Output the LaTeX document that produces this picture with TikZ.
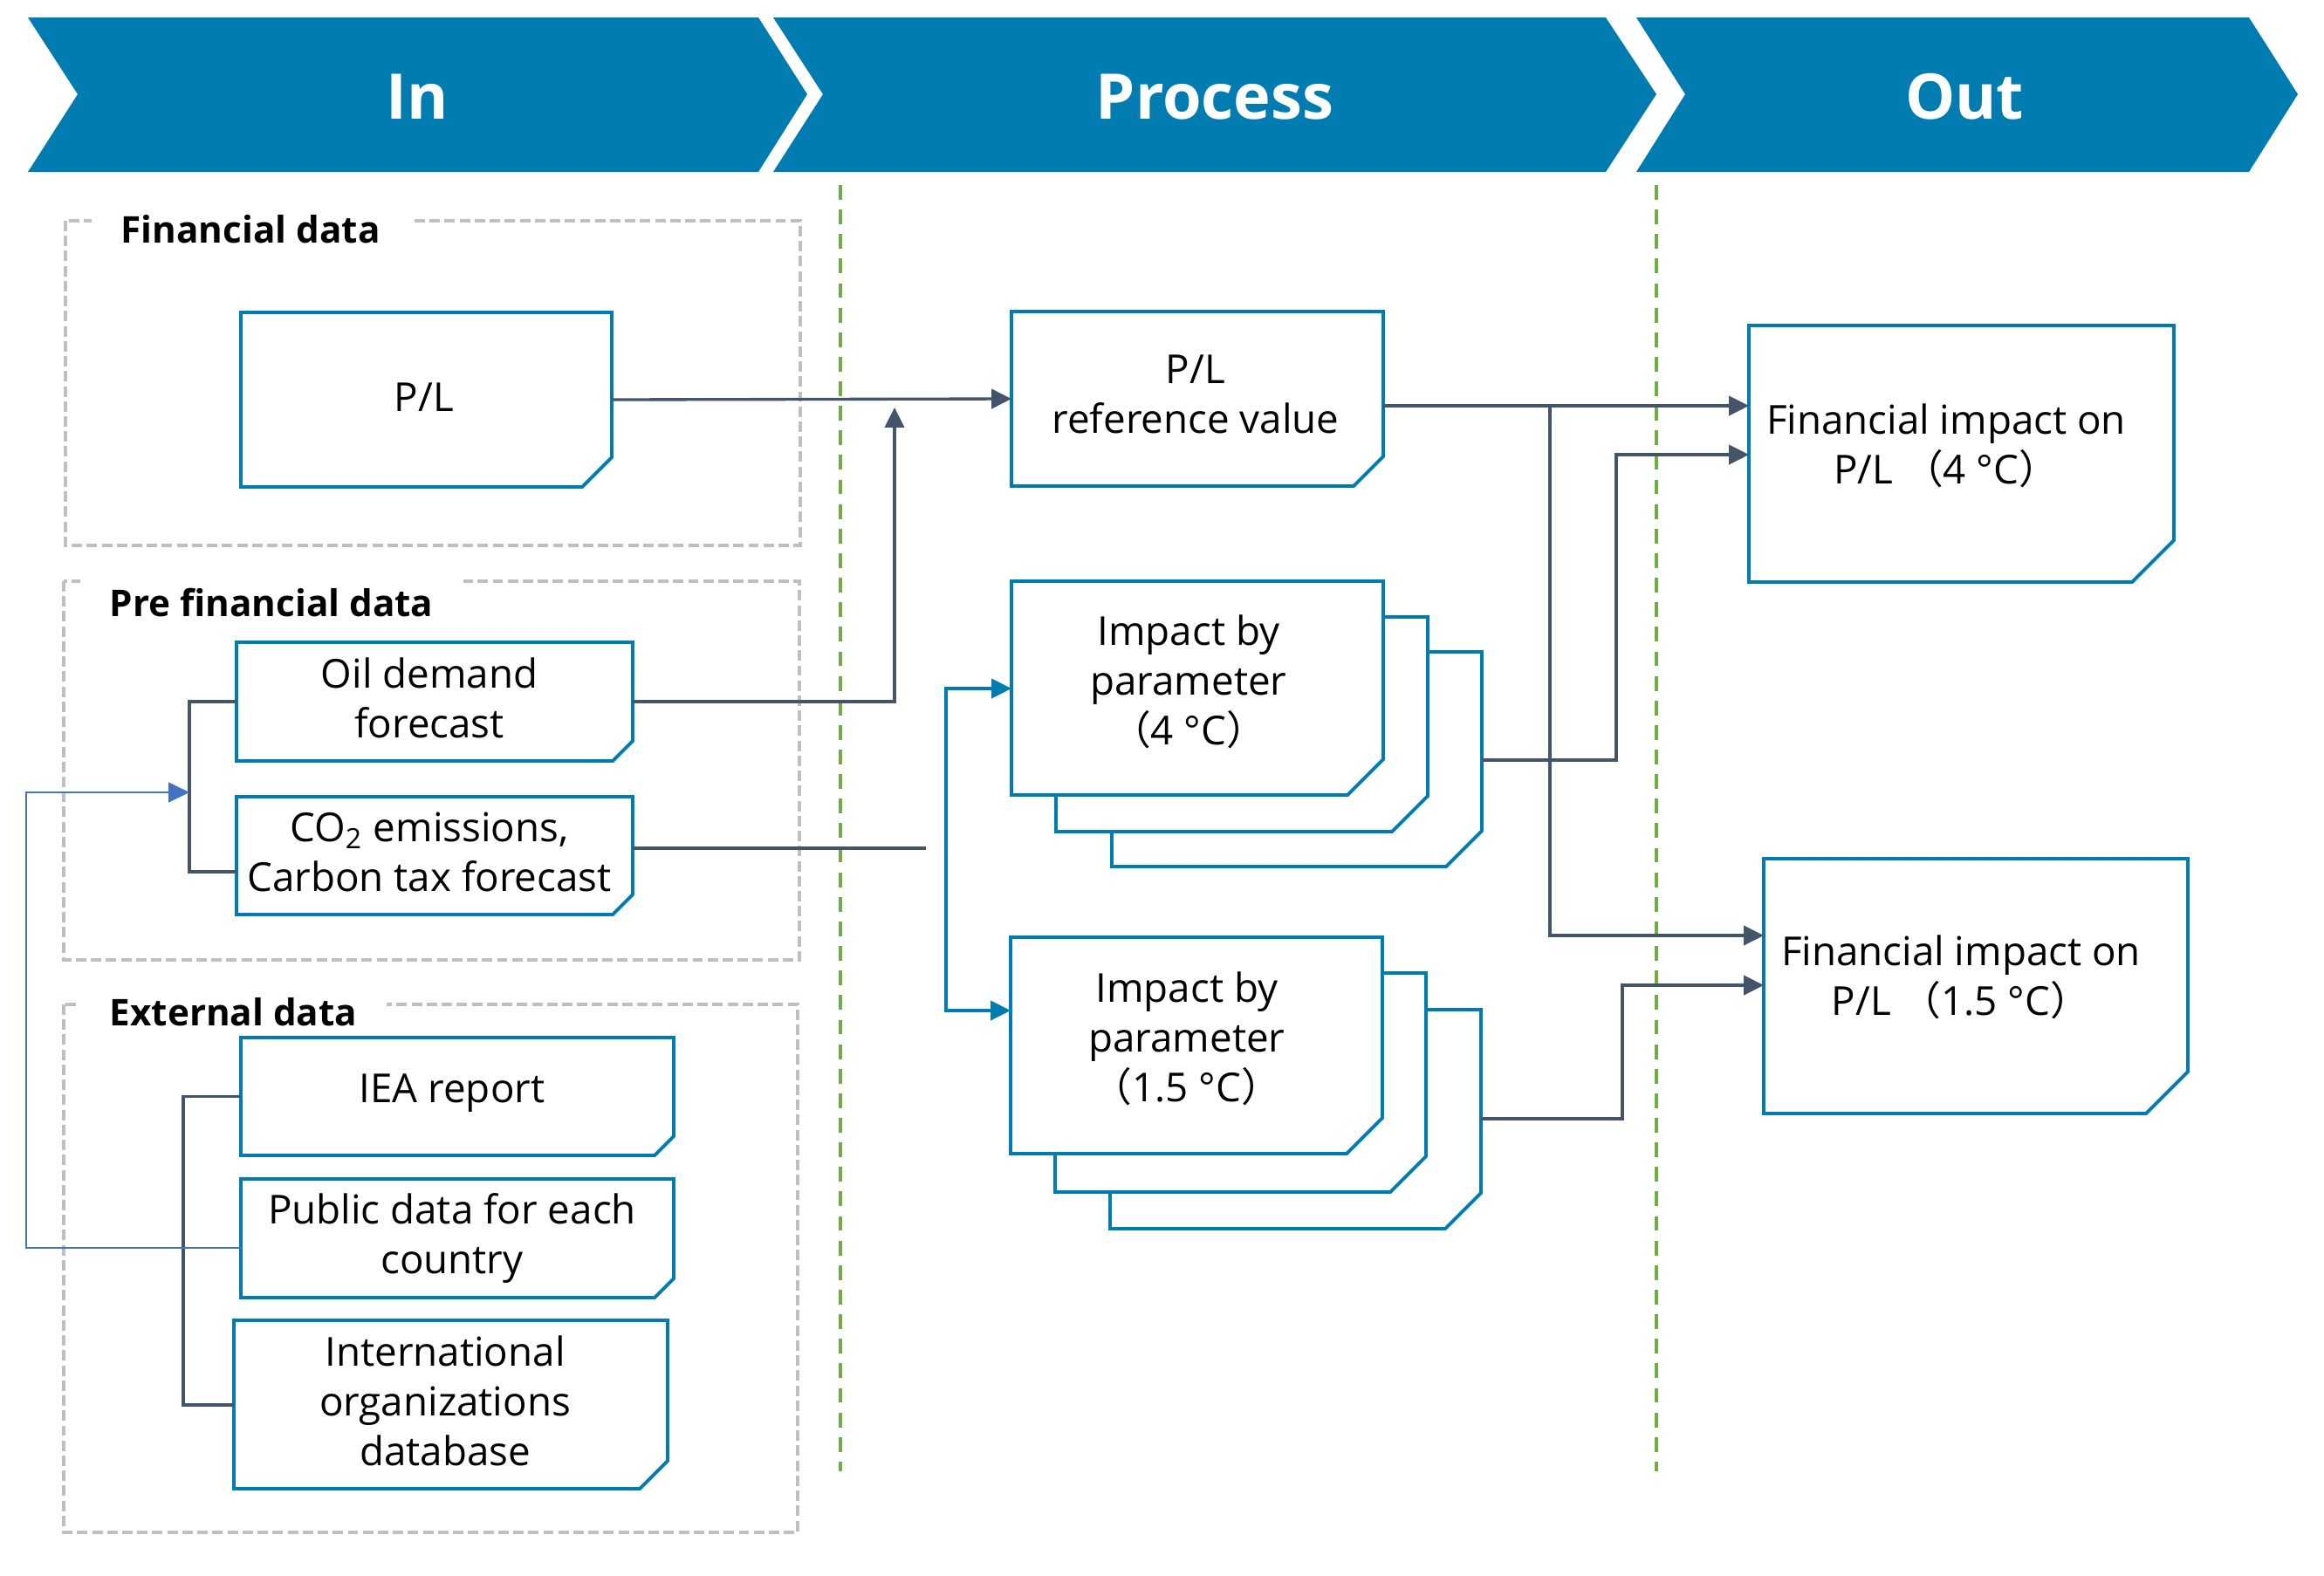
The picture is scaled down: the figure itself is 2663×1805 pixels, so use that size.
\documentclass[tikz,border=0pt]{standalone}
\usepackage{fontspec}
\setmainfont{Open Sans}
\newfontfamily\cjk{Noto Sans CJK JP}
\usetikzlibrary{arrows.meta,calc}
\definecolor{hdr}{RGB}{0,124,176}
\definecolor{boxc}{RGB}{0,124,176}
\definecolor{connc}{RGB}{68,84,106}
\definecolor{fbc}{RGB}{68,114,196}
\definecolor{grn}{RGB}{112,173,71}
\definecolor{gry}{RGB}{191,191,191}
\newcommand{\fp}[1]{{\cjk （}#1{\cjk ）}}
\newcommand{\docbox}[6]{%
  \node[boxbase, minimum width={(#4-#2)*0.01cm}, minimum height={(#5-#3)*0.01cm}, anchor=north west] (#1) at (#2,#3) {};
  \draw[boxline] (#1.north west) -- (#1.north east) -- ([yshift={#6*0.01cm}]#1.south east) -- ([xshift={-#6*0.01cm}]#1.south east) -- (#1.south west) -- cycle;}
\tikzset{
  boxbase/.style={draw=none, inner sep=0pt, outer sep=0pt, rectangle},
  boxline/.style={draw=boxc, line width=1.1pt, fill=white, line join=miter},
  txt/.style={align=center, font=\fontsize{13}{16.2}\selectfont, text=black, inner sep=0pt},
  hdrtxt/.style={font=\fontsize{20.5}{25}\selectfont\bfseries, text=white, inner sep=0pt},
  grptitle/.style={font=\fontsize{12}{15}\selectfont\bfseries, text=black, fill=white, inner xsep=0.34cm, inner ysep=0.15cm, anchor=west},
  grpbox/.style={draw=gry, line width=0.9pt, dash pattern=on 3.4pt off 1.5pt},
  phase/.style={draw=grn, line width=1.1pt, dash pattern=on 4.8pt off 3.2pt},
  conn/.style={draw=connc, line width=0.95pt},
  bconn/.style={draw=boxc, line width=0.95pt},
  fbline/.style={draw=fbc, line width=0.6pt},
  arw/.tip={Triangle[length=6.5pt,width=6.3pt]}
}
\begin{document}
\begin{tikzpicture}[x=0.01cm,y=-0.01cm]
\useasboundingbox (0,0) rectangle (2663,1805);
% header chevrons
\fill[hdr] (32,20) -- (869,20) -- (925,108) -- (869,197) -- (32,197) -- (89,108) -- cycle;
\fill[hdr] (886,20) -- (1840,20) -- (1898,108) -- (1840,197) -- (886,197) -- (943,108) -- cycle;
\fill[hdr] (1875,20) -- (2577,20) -- (2633,108) -- (2577,197) -- (1875,197) -- (1931,108) -- cycle;
\node[hdrtxt] (hin) at (478,111) {In};
\node[hdrtxt] (hproc) at (1392,111) {Process};
\node[hdrtxt] (hout) at (2251,111) {Out};
% phase separators
\coordinate (g1a) at (963,212); \coordinate (g1b) at (963,1686);
\coordinate (g2a) at (1898,212); \coordinate (g2b) at (1898,1686);
\draw[phase] (g1a) -- (g1b);
\draw[phase] (g2a) -- (g2b);
% group boxes
\draw[grpbox] (75,253) rectangle (917,625);
\draw[grpbox] (73,666) rectangle (916,1100);
\draw[grpbox] (73,1151) rectangle (914,1756);
\node[grptitle] (tfin) at (104,263) {Financial data};
\node[grptitle] (tpre) at (91,691) {Pre financial data};
\node[grptitle] (text) at (91,1160) {External data};
% input boxes
\docbox{pl}{276}{358}{701}{558}{34}
\node[txt] (plt) at (486,455) {P/L};
\docbox{oil}{271}{736}{725}{872}{23}
\node[txt] (oilt) at (492,800) {Oil demand\\forecast};
\docbox{co2}{271}{913}{725}{1048}{23}
\node[txt] (co2t) at (492,976) {CO\textsubscript{2} emissions,\\Carbon tax forecast};
\docbox{iea}{276}{1189}{772}{1324}{22}
\node[txt] (ieat) at (518,1253) {IEA report};
\docbox{pub}{276}{1351}{772}{1487}{22}
\node[txt] (pubt) at (518,1419) {Public data for each\\country};
\docbox{intl}{268}{1513}{765}{1706}{32}
\node[txt] (intlt) at (510,1605) {International\\organizations\\database};
% process boxes
\docbox{plref}{1159}{357}{1585}{557}{34}
\node[txt] (plreft) at (1370,452) {P/L\\reference value};
\docbox{impfc}{1274}{747}{1698}{993}{41}
\docbox{impfb}{1210}{707}{1636}{953}{41}
\docbox{impf}{1159}{666}{1585}{911}{41}
\node[txt] (impft) at (1362,781) {Impact by\\parameter\\\fp{4 °C}};
\docbox{imphc}{1272}{1157}{1697}{1408}{41}
\docbox{imphb}{1209}{1115}{1634}{1366}{41}
\docbox{imph}{1158}{1074}{1584}{1322}{41}
\node[txt] (impht) at (1360,1190) {Impact by\\parameter\\\fp{1.5 °C}};
% output boxes
\docbox{finf}{2004}{373}{2491}{667}{48}
\node[txt] (finft) at (2230,511) {Financial impact on\\P/L \fp{4 °C}};
\docbox{finh}{2021}{984}{2507}{1276}{48}
\node[txt] (finht) at (2247,1120) {Financial impact on\\P/L \fp{1.5 °C}};
% connectors
\draw[conn,-arw] (pl.east) -- (plref.west);
\coordinate (oilup) at (1025,467);
\draw[conn,-arw] (oil.east) -| (oilup);
\coordinate (co2end) at (1061,972);
\draw[conn] (co2.east |- co2end) -- (co2end);
\coordinate (sp4) at (1084,789);
\coordinate (sp15) at (1084,1158);
\draw[bconn,arw-arw] (impf.west |- sp4) -- (sp4) -- (sp15) -- (sp15 -| imph.west);
\coordinate (j1) at (1776,465);
\coordinate (j2) at (1776,1072);
\draw[conn,-arw] (plref.east |- j1) -- (j1 -| finf.west);
\draw[conn,-arw] (j1) -- (j2) -- (j2 -| finh.west);
\coordinate (k4) at (1852,521);
\draw[conn,-arw] (impfc.east |- 0,871) -| (k4) -- (k4 -| finf.west);
\coordinate (k15) at (1859,1129);
\draw[conn,-arw] (imphc.east |- 0,1282) -| (k15) -- (k15 -| finh.west);
% brackets
\coordinate (bpre) at (217,999);
\draw[conn] (oil.west) -| (bpre) -- (bpre -| co2.west);
\coordinate (bext) at (210,1610);
\draw[conn] (iea.west) -| (bext) -- (intl.west |- bext);
% feedback
\coordinate (fb1) at (30,1430);
\coordinate (fb2) at (30,908);
\draw[fbline,-{Triangle[length=6.8pt,width=6.5pt]}] (pub.west |- fb1) -- (fb1) -- (fb2) -- (fb2 -| bpre);
\end{tikzpicture}
\end{document}
